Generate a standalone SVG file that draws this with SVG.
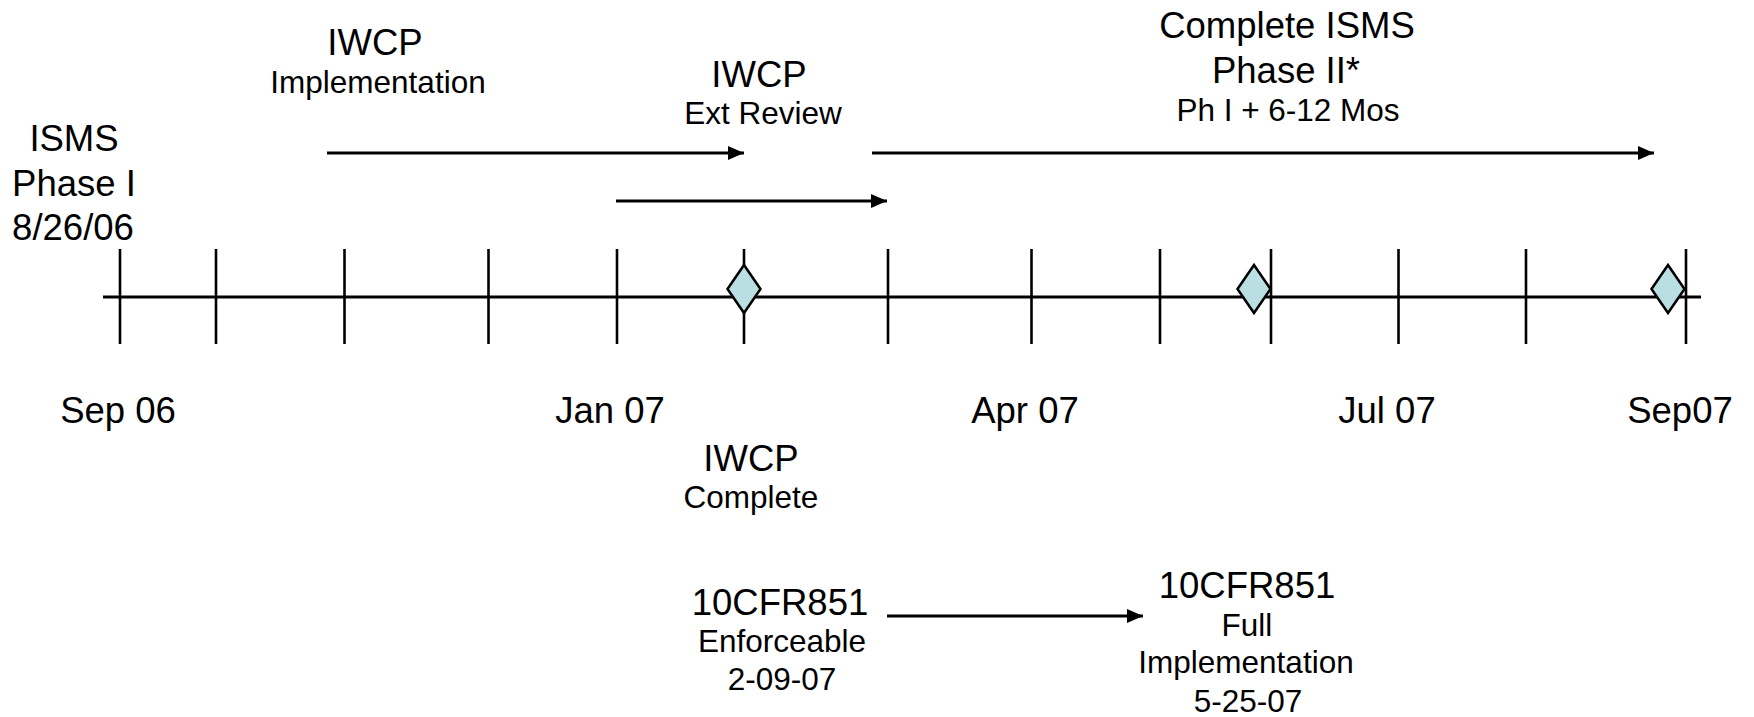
<svg xmlns="http://www.w3.org/2000/svg" width="1754" height="717" viewBox="0 0 1754 717">
<style>
text{font-family:"Liberation Sans",Arial,sans-serif;fill:#000;text-anchor:middle}
.big{font-size:36.5px}
.sm{font-size:31.5px}
.axis{stroke:#000;stroke-width:3;fill:none}
.tick{stroke:#000;stroke-width:2.6;fill:none}
.arrow{stroke:#000;stroke-width:3;fill:none;marker-end:url(#ah)}
.ms{fill:#B9DFE3;stroke:#000;stroke-width:2.5}
</style>
<defs>
<marker id="ah" markerUnits="userSpaceOnUse" markerWidth="17" markerHeight="15" refX="16" refY="7" orient="auto">
<path d="M0,0 L16,7 L0,14 z" fill="#000"/>
</marker>
</defs>
<rect width="1754" height="717" fill="#fff"/>
<g id="timeline">
<line class="axis" x1="103" y1="297" x2="1701" y2="297"/>
<g class="tick-marks">
<line class="tick" x1="120" y1="249" x2="120" y2="344"/>
<line class="tick" x1="216" y1="249" x2="216" y2="344"/>
<line class="tick" x1="344.5" y1="249" x2="344.5" y2="344"/>
<line class="tick" x1="488.5" y1="249" x2="488.5" y2="344"/>
<line class="tick" x1="617" y1="249" x2="617" y2="344"/>
<line class="tick" x1="744" y1="249" x2="744" y2="344"/>
<line class="tick" x1="888" y1="249" x2="888" y2="344"/>
<line class="tick" x1="1031.5" y1="249" x2="1031.5" y2="344"/>
<line class="tick" x1="1160" y1="249" x2="1160" y2="344"/>
<line class="tick" x1="1271" y1="249" x2="1271" y2="344"/>
<line class="tick" x1="1398.5" y1="249" x2="1398.5" y2="344"/>
<line class="tick" x1="1526" y1="249" x2="1526" y2="344"/>
<line class="tick" x1="1686" y1="249" x2="1686" y2="344"/>
</g>
</g>
<g id="milestone-iwcp-complete"><polygon class="ms" points="744,265 760.5,289 744,313 727.5,289"/></g>
<g id="milestone-10cfr851-full"><polygon class="ms" points="1254,265 1270.5,289 1254,313 1237.5,289"/></g>
<g id="milestone-isms-phase2"><polygon class="ms" points="1668,265 1684.5,289 1668,313 1651.5,289"/></g>
<g id="month-labels">
<text class="big" x="118" y="423">Sep 06</text>
<text class="big" x="610" y="423">Jan 07</text>
<text class="big" x="1025" y="423">Apr 07</text>
<text class="big" x="1387" y="423">Jul 07</text>
<text class="big" x="1680" y="423">Sep07</text>
</g>
<g id="isms-phase1">
<text class="big" x="74" y="151">ISMS</text>
<text class="big" x="74" y="196">Phase I</text>
<text class="big" x="73" y="240">8/26/06</text>
</g>
<g id="iwcp-implementation">
<text class="big" x="375" y="55">IWCP</text>
<text class="sm" x="378" y="93">Implementation</text>
</g>
<g id="iwcp-ext-review">
<text class="big" x="759" y="87">IWCP</text>
<text class="sm" x="763" y="124">Ext Review</text>
</g>
<g id="complete-isms-phase2">
<text class="big" x="1287" y="38">Complete ISMS</text>
<text class="big" x="1286" y="83">Phase II*</text>
<text class="sm" x="1288" y="121">Ph I + 6-12 Mos</text>
</g>
<g id="iwcp-complete">
<text class="big" x="751" y="471">IWCP</text>
<text class="sm" x="751" y="508">Complete</text>
</g>
<g id="cfr-enforceable">
<text class="big" x="780" y="615">10CFR851</text>
<text class="sm" x="782" y="652">Enforceable</text>
<text class="sm" x="782" y="690">2-09-07</text>
</g>
<g id="cfr-full">
<text class="big" x="1247" y="598">10CFR851</text>
<text class="sm" x="1247" y="636">Full</text>
<text class="sm" x="1246" y="673">Implementation</text>
<text class="sm" x="1248" y="712">5-25-07</text>
</g>
<g id="connectors">
<line class="arrow" x1="327" y1="153" x2="744" y2="153"/>
<line class="arrow" x1="616" y1="201" x2="887" y2="201"/>
<line class="arrow" x1="872" y1="153" x2="1654" y2="153"/>
<line class="arrow" x1="887" y1="616" x2="1143" y2="616"/>
</g>
</svg>
